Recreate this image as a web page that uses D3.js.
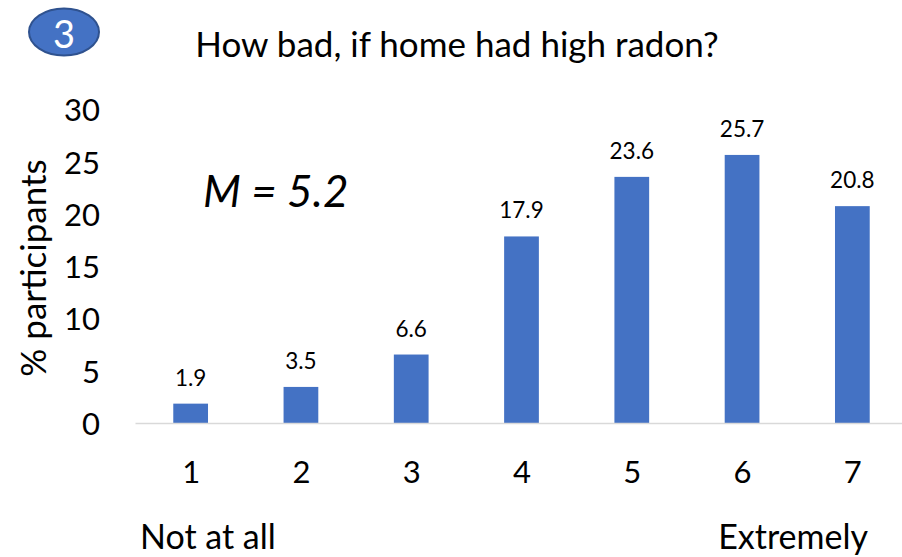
<!DOCTYPE html>
<html>
<head>
<meta charset="utf-8">
<script src="https://cdn.jsdelivr.net/npm/d3@7"></script>
<style>
  html, body { margin: 0; padding: 0; background: #fff; }
  svg { display: block; font-family: Lato, "Open Sans", sans-serif; }
</style>
</head>
<body>
<svg id="chart" width="902" height="557"></svg>
<script>
// Response scale points and the share of participants choosing each
const categories = ["1", "2", "3", "4", "5", "6", "7"];
const percents = [1.9, 3.5, 6.6, 17.9, 23.6, 25.7, 20.8];
const yTicks = [0, 5, 10, 15, 20, 25, 30];
const title = "How bad, if home had high radon?";
const meanText = "M = 5.2";
const badgeText = "3";
const yLabel = "% participants";
const lowAnchor = "Not at all";
const highAnchor = "Extremely";

const svg = d3.select("#chart");
const barColor = "#4472C4";

const x = d3.scalePoint().domain(categories).range([135.5, 907.5]).padding(0.5);
const barW = x.step() * 0.315;
const y = d3.scaleLinear().domain([0, 30]).range([423.5, 110]);

// Numbered badge
const badge = svg.append("g");
badge.append("ellipse")
  .attr("cx", 64).attr("cy", 32).attr("rx", 35).attr("ry", 23.5)
  .attr("fill", barColor).attr("stroke", "#2F528F").attr("stroke-width", 2);
badge.append("text")
  .attr("x", 64).attr("y", 33)
  .attr("text-anchor", "middle").attr("dominant-baseline", "central")
  .attr("fill", "#fff").attr("font-size", 38)
  .text(badgeText);

// Title
svg.append("text")
  .attr("x", 457).attr("y", 57)
  .attr("text-anchor", "middle").attr("font-size", 35).attr("fill", "#000")
  .text(title);

// Y axis labels (no line, no ticks)
const yAxis = d3.axisLeft(y).tickValues(yTicks).tickSize(0).tickPadding(0);
const yg = svg.append("g").attr("transform", "translate(100,0)").call(yAxis);
yg.select(".domain").remove();
yg.selectAll("text")
  .attr("font-size", 31).attr("font-family", "Lato, sans-serif")
  .attr("fill", "#000").attr("dy", "0.35em");

// Y axis title
svg.append("text")
  .attr("transform", "translate(46,268) rotate(-90)")
  .attr("text-anchor", "middle").attr("font-size", 35).attr("fill", "#000")
  .text(yLabel);

// Bars
svg.append("g").selectAll("rect")
  .data(percents)
  .join("rect")
  .attr("x", (d, i) => x(categories[i]) - barW / 2)
  .attr("width", barW)
  .attr("y", d => y(d))
  .attr("height", d => y(0) - y(d))
  .attr("fill", barColor);

// Baseline
svg.append("line")
  .attr("x1", 135.5).attr("x2", 902)
  .attr("y1", y(0)).attr("y2", y(0))
  .attr("stroke", "#d9d9d9").attr("stroke-width", 1.5);

// Value labels
svg.append("g").selectAll("text")
  .data(percents)
  .join("text")
  .attr("x", (d, i) => x(categories[i]))
  .attr("y", d => y(d) - 18)
  .attr("text-anchor", "middle").attr("font-size", 22.5).attr("fill", "#000")
  .text(d => d.toFixed(1));

// X axis labels
const xAxis = d3.axisBottom(x).tickSize(0).tickPadding(0);
const xg = svg.append("g").attr("transform", "translate(0,461)").call(xAxis);
xg.select(".domain").remove();
xg.selectAll("text")
  .attr("font-size", 31).attr("font-family", "Lato, sans-serif")
  .attr("fill", "#000").attr("dy", "0.71em");

// Mean annotation
svg.append("text")
  .attr("x", 203).attr("y", 207)
  .attr("font-size", 44).attr("font-style", "italic").attr("fill", "#000")
  .text(meanText);

// Scale anchors
svg.append("text")
  .attr("x", 140).attr("y", 549)
  .attr("font-size", 34).attr("fill", "#000")
  .text(lowAnchor);
svg.append("text")
  .attr("x", 868).attr("y", 549)
  .attr("text-anchor", "end").attr("font-size", 34).attr("fill", "#000")
  .text(highAnchor);
</script>
</body>
</html>
